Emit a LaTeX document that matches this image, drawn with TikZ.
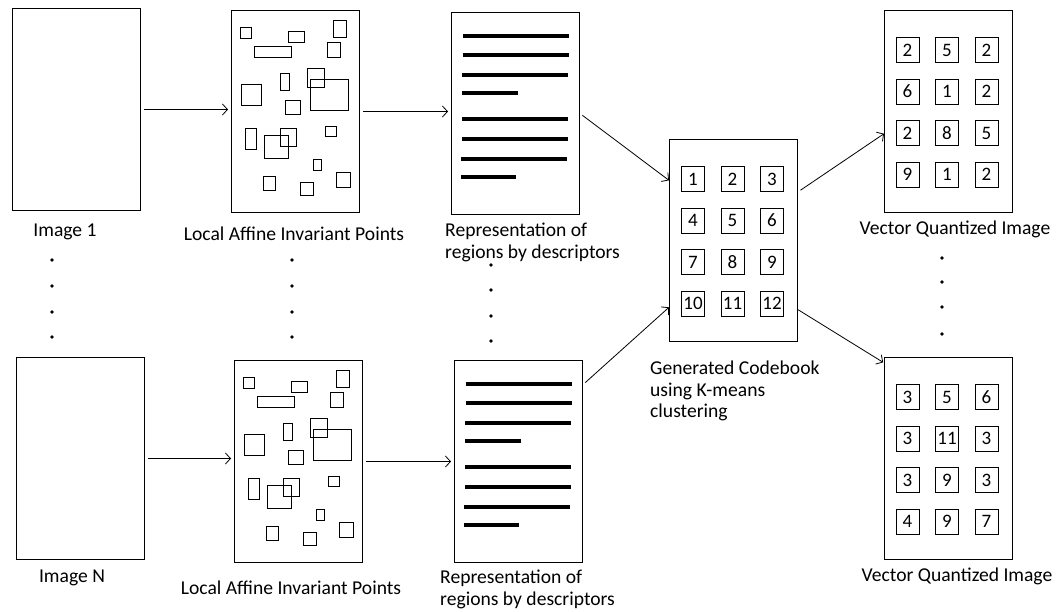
\documentclass[tikz,border=0pt]{standalone}
\usepackage{fontspec}
\setmainfont{Carlito}
\usetikzlibrary{arrows.meta,positioning}

\tikzset{
  panel/.style={draw, line width=1pt, inner sep=0pt, anchor=north west, minimum width=128pt, minimum height=202pt},
  cell/.style={draw, line width=1pt, inner sep=0pt, minimum width=23pt, minimum height=25pt, font=\fontsize{19}{21}\selectfont},
  lab/.style={font=\fontsize{19.6}{21.8}\selectfont, align=left, inner sep=0pt},
  bar/.style={line width=3.4pt},
  blob/.style={draw, line width=0.9pt},
  link/.style={->, line width=0.8pt, shorten <=3pt, shorten >=3pt},
  dot/.style={fill, circle, inner sep=0pt, minimum size=3.6pt}
}

\begin{document}
\begin{tikzpicture}[x=1pt, y=-1pt, >={Straight Barb[length=5pt,width=11pt]}]
\useasboundingbox (0,0) rectangle (1058,611);

\node[panel] (img1) at (12,8) {};
\node[panel] (imgN) at (16,357) {};
\node[panel] (pts1) at (231,10) {};
\node[panel] (ptsN) at (234,360) {};
\node[panel] (desc1) at (451,12) {};
\node[panel] (descN) at (454,360) {};
\node[panel] (code) at (669,139) {};
\node[panel] (vq1) at (884,10) {};
\node[panel] (vqN) at (884,357) {};

\foreach \p in {pts1,ptsN}{
  \begin{scope}[shift={(\p.north west)}]
    \foreach \a/\b/\c/\d in {9/17/20/28, 57/21/73/32, 23/36/60/47, 102/10/115/27, 96/32/109/47,
      49/63/58/80, 76/58/93/77, 79/69/117/100, 10/74/30/95, 54/90/69/104, 14/118/25/139,
      49/118/65/136, 33/125/57/148, 94/116/105/126, 82/149/90/160, 32/166/44/180,
      69/172/82/185, 105/162/119/177}
      \draw[blob] (\a,\b) rectangle (\c,\d);
  \end{scope}
}

\foreach \p in {desc1,descN}{
  \begin{scope}[shift={(\p.north west)}]
    \foreach \y/\l/\r in {24/12/118, 43/12/118, 63/11/117, 81/11/67, 107/11/117, 127/11/117, 147/10/116, 165/10/65}
      \draw[bar] (\l,\y) -- (\r,\y);
  \end{scope}
}

\begin{scope}[shift={(code.north west)}]
  \foreach \v [count=\k from 0] in {1,...,12}{
    \pgfmathsetmacro\cx{24+39.5*mod(\k,3)}
    \pgfmathsetmacro\cy{40+41.5*floor(\k/3)}
    \node[cell] (code-\v) at (\cx,\cy) {\v};
  }
\end{scope}

\begin{scope}[shift={(vq1.north west)}]
  \foreach \v [count=\k from 0] in {2,5,2,6,1,2,2,8,5,9,1,2}{
    \pgfmathsetmacro\cx{23.5+39.5*mod(\k,3)}
    \pgfmathsetmacro\cy{40+41.5*floor(\k/3)}
    \node[cell] (vq1-\k) at (\cx,\cy) {\v};
  }
\end{scope}

\begin{scope}[shift={(vqN.north west)}]
  \foreach \v [count=\k from 0] in {3,5,6,3,11,3,3,9,3,4,9,7}{
    \pgfmathsetmacro\cx{23.5+39.5*mod(\k,3)}
    \pgfmathsetmacro\cy{40+41.5*floor(\k/3)}
    \node[cell] (vqN-\k) at (\cx,\cy) {\v};
  }
\end{scope}

\node[lab] (img1-lab) at (65,232) {Image 1};
\node[lab] (imgN-lab) at (72,578) {Image N};
\node[lab] (pts1-lab) at (294,234) {Local Affine Invariant Points};
\node[lab] (ptsN-lab) at (291,588) {Local Affine Invariant Points};
\node[lab, anchor=west] (desc1-lab) at (445,242.5) {Representation of\\regions by descriptors};
\node[lab, anchor=west] (descN-lab) at (440,589.5) {Representation of\\regions by descriptors};
\node[lab, anchor=west] (code-lab) at (650,391) {Generated Codebook\\using K-means\\clustering};
\node[lab] (vq1-lab) at (955,229) {Vector Quantized Image};
\node[lab] (vqN-lab) at (957,576) {Vector Quantized Image};

\foreach \y in {260,286,312,337} \node[dot] at (52,\y) {};
\foreach \y in {260,286,312,337} \node[dot] at (292,\y) {};
\foreach \y in {265,290,316,341} \node[dot] at (491,\y) {};
\foreach \y in {258,282,307,334} \node[dot] at (942,\y) {};

\draw[link] (img1.east) -- (img1.east -| pts1.west);
\draw[link] (pts1.east) -- (pts1.east -| desc1.west);
\draw[link] (imgN.east) -- (imgN.east -| ptsN.west);
\draw[link] (ptsN.east) -- (ptsN.east -| descN.west);
\draw[link, shorten >=0pt] (desc1.east) -- (code.137.6);
\draw[link, shorten >=0pt] (descN.50) -- (code.226.9);
\draw[link, shorten >=0pt] (code.37.7) -- (vq1.199.4);
\draw[link, shorten >=1pt, shorten <=0pt] (code.-47.8) -- (vqN.124.7);
\end{tikzpicture}
\end{document}
